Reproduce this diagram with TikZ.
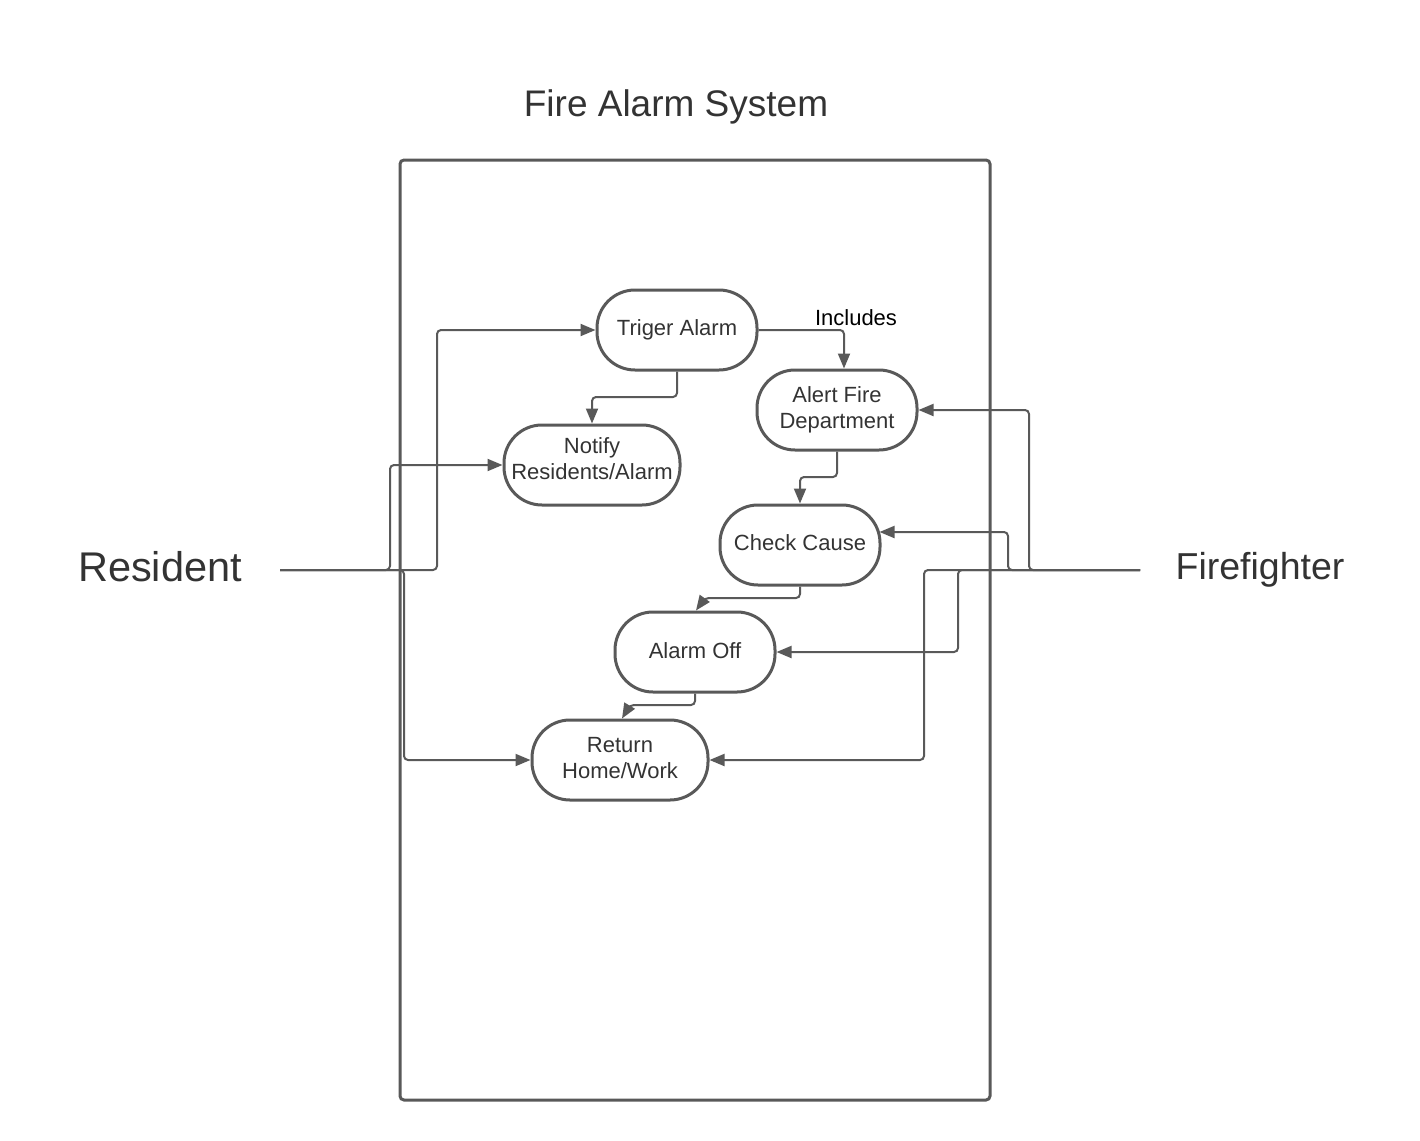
\documentclass[tikz,border=0pt]{standalone}
\usepackage{fontspec}
\setmainfont{Liberation Sans}
\usetikzlibrary{arrows.meta,calc}
\definecolor{ln}{HTML}{595959}
\definecolor{tx}{HTML}{333333}
\begin{document}
\begin{tikzpicture}[x=1pt,y=-1pt,
 uc/.style={draw=ln, line width=3pt, rounded corners=38pt, minimum height=80pt, text=tx,
   font=\fontsize{22}{26}\selectfont, align=center, inner sep=0pt},
 one/.style={text height=16pt, text depth=6pt},
 conn/.style={draw=ln, line width=2pt, rounded corners=4pt, -{Triangle[length=15pt,width=12pt]}},
 ]
\useasboundingbox (0,0) rectangle (1420,1140);
\draw[ln, line width=3pt, rounded corners=4pt] (400,160) rectangle (990,1100);

\node[font=\fontsize{37}{44}\selectfont, text=tx] (title) at (676,107) {Fire Alarm System};
\node[font=\fontsize{41.5}{50}\selectfont, text=tx] (resident) at (160,567) {Resident};
\node[font=\fontsize{37.5}{45}\selectfont, text=tx] (ff) at (1260,570) {Firefighter};

\node[uc, one, minimum width=160pt] (trig) at (677,330) {Triger Alarm};
\node[uc, minimum width=160pt] (alert) at (837,410) {Alert Fire\\Department};
\node[uc, minimum width=176pt, text depth=12pt] (notify) at (592,465) {Notify\\Residents/Alarm};
\node[uc, one, minimum width=160pt] (check) at (800,545) {Check Cause};
\node[uc, one, minimum width=160pt, text depth=4pt] (off) at (695,652) {Alarm Off};
\node[uc, minimum width=176pt, text depth=4pt] (ret) at (620,760) {Return\\Home/Work};

\node[font=\fontsize{22}{26}\selectfont, text=black] (inc) at (856,318) {Includes};

\coordinate (res) at (280,570);
\coordinate (fire) at (1140,570);
\coordinate (cc) at (0,532);

% Resident
\draw[conn] (res) -| (437,330) -- (trig.west);
\draw[conn] (res) -| (390,465) -- (notify.west);
\draw[conn] (res) -| (404,760) -- (ret.west);

% Firefighter
\draw[conn] (fire) -| (1029,410) -- (alert.east);
\draw[conn] (fire) -| (1008,532) -- ($(check.east |- cc)+(-2,0)$);
\draw[conn] (fire) -| (958,652) -- (off.east);
\draw[conn] (fire) -| (924,760) -- (ret.east);

% internal
\draw[conn] (trig.south) |- (592,397) -- (notify.north);
\draw[conn] (trig.east) -| ($(alert.north)+(7,0)$);
\draw[conn] (alert.south) |- (800,477) -- (check.north);
\draw[conn] (check.south) |- (705,598) -- ($(off.north)+(1,0)$);
\draw[conn] (off.south) |- (630,705) -- ($(ret.north)+(2,0)$);
\end{tikzpicture}
\end{document}
